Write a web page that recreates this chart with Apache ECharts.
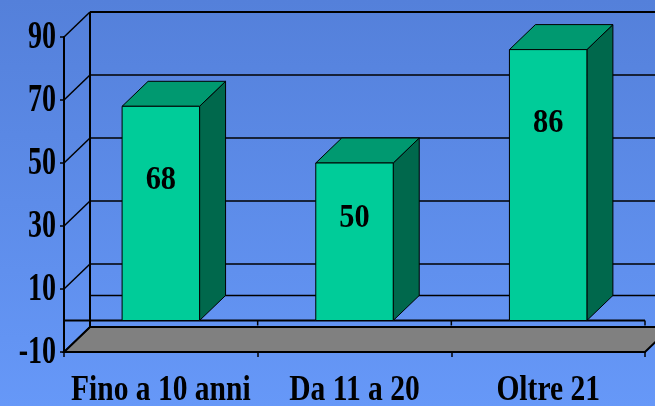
<!DOCTYPE html>
<html>
<head>
<meta charset="utf-8">
<script src="https://cdn.jsdelivr.net/npm/echarts@6/dist/echarts.min.js"></script>
<style>
  html, body { margin: 0; padding: 0; }
  #chart { width: 655px; height: 406px; }
</style>
</head>
<body>
<div id="chart"></div>
<script>
// Anni di servizio: three groups and their counts
const categories = ['Fino a 10 anni', 'Da 11 a 20', 'Oltre 21'];
const values = [68, 50, 86];
const yTicks = [-10, 10, 30, 50, 70, 90];

// Depth of the pseudo-3D box (screen offset of the back plane)
const DX = 26, DY = -25;
const FONT = '"Liberation Serif", "Times New Roman", serif';
const LINE = '#000';

const chart = echarts.init(document.getElementById('chart'));

// Walls, floor, gridlines and axis text
function renderFrame(params, api) {
  const cs = params.coordSys;
  const x0 = cs.x, x1 = cs.x + cs.width;
  const yOf = v => api.coord([0, v])[1];
  const yMin = yOf(yTicks[0]);
  const yMax = yOf(yTicks[yTicks.length - 1]);
  const y0 = yOf(0);
  const band = api.size([1, 0])[0];
  const children = [];

  // gray floor at the bottom of the value range
  children.push({
    type: 'polygon',
    shape: { points: [[x0, yMin], [x1, yMin], [x1 + DX, yMin + DY], [x0 + DX, yMin + DY]] },
    style: { fill: '#808080', stroke: LINE, lineWidth: 2 }
  });

  // back wall gridlines and left wall diagonals
  yTicks.forEach(v => {
    const y = yOf(v);
    children.push({
      type: 'line',
      shape: { x1: x0 + DX, y1: y + DY, x2: x1 + DX, y2: y + DY },
      style: { stroke: LINE, lineWidth: v === yTicks[yTicks.length - 1] ? 2 : 1.5 }
    });
    children.push({
      type: 'line',
      shape: { x1: x0, y1: y, x2: x0 + DX, y2: y + DY },
      style: { stroke: LINE, lineWidth: 1.5 }
    });
  });
  // back wall edges
  children.push({
    type: 'line',
    shape: { x1: x0 + DX, y1: yMax + DY, x2: x0 + DX, y2: yMin + DY },
    style: { stroke: LINE, lineWidth: 2 }
  });
  children.push({
    type: 'line',
    shape: { x1: x1 + DX, y1: yMax + DY, x2: x1 + DX, y2: yMin + DY },
    style: { stroke: LINE, lineWidth: 2 }
  });

  // zero plane: back and front edges, with category ticks on the front
  children.push({
    type: 'line',
    shape: { x1: x0 + DX, y1: y0 + DY, x2: x1 + DX, y2: y0 + DY },
    style: { stroke: LINE, lineWidth: 1.5 }
  });
  children.push({
    type: 'line',
    shape: { x1: x0, y1: y0, x2: x1, y2: y0 },
    style: { stroke: LINE, lineWidth: 2 }
  });
  for (let i = 0; i <= categories.length; i++) {
    const x = x0 + band * i;
    children.push({
      type: 'line',
      shape: { x1: x, y1: y0, x2: x, y2: y0 + 5 },
      style: { stroke: LINE, lineWidth: 1.5 }
    });
  }

  // value labels on the front axis
  yTicks.forEach(v => {
    children.push({
      type: 'text',
      x: x0 - 8, y: yOf(v) + 1,
      scaleX: 0.7,
      style: {
        text: String(v), x: 0, y: 0,
        font: 'bold 40px ' + FONT, fill: '#000',
        align: 'right', verticalAlign: 'middle'
      }
    });
  });

  // category labels under the floor
  categories.forEach((c, i) => {
    children.push({
      type: 'text',
      x: api.coord([i, 0])[0], y: yMin + 39,
      scaleX: 0.82,
      style: {
        text: c, x: 0, y: 0,
        font: 'bold 36px ' + FONT, fill: '#000',
        align: 'center', verticalAlign: 'middle'
      }
    });
  });

  return { type: 'group', children };
}

// One 3D box per category: front face, top face, right side, value label
function renderBar(params, api) {
  const idx = api.value(0);
  const val = api.value(1);
  const base = api.coord([idx, 0]);
  const top = api.coord([idx, val]);
  const w = api.size([1, 0])[0] * 0.4;
  const L = base[0] - w / 2, R = base[0] + w / 2;
  const T = top[1], B = base[1];
  const h = B - T;
  const edge = { stroke: LINE, lineWidth: 1 };
  return {
    type: 'group',
    children: [
      {
        type: 'polygon',
        shape: { points: [[R, T], [R + DX, T + DY], [R + DX, B + DY], [R, B]] },
        style: Object.assign({ fill: '#00684C' }, edge)
      },
      {
        type: 'polygon',
        shape: { points: [[L, T], [R, T], [R + DX, T + DY], [L + DX, T + DY]] },
        style: Object.assign({ fill: '#009970' }, edge)
      },
      {
        type: 'rect',
        shape: { x: L, y: T, width: w, height: h },
        style: Object.assign({ fill: '#00CC99' }, edge)
      },
      {
        type: 'text',
        x: base[0], y: T + Math.min(0.35 * h, 74),
        scaleX: 0.92,
        style: {
          text: String(val), x: 0, y: 0,
          font: 'bold 33px ' + FONT, fill: '#000',
          align: 'center', verticalAlign: 'middle'
        }
      }
    ]
  };
}

chart.setOption({
  backgroundColor: {
    type: 'linear', x: 0, y: 0, x2: 0, y2: 1,
    colorStops: [
      { offset: 0, color: '#5480DA' },
      { offset: 1, color: '#6698F8' }
    ]
  },
  animation: false,
  grid: { left: 64, right: 10, top: 37, bottom: 54 },
  xAxis: {
    type: 'category',
    data: categories,
    boundaryGap: true,
    axisLine: { onZero: false, lineStyle: { color: LINE, width: 2 } },
    axisTick: { show: true, length: 5, lineStyle: { color: LINE, width: 1.5 } },
    axisLabel: { show: false },
    splitLine: { show: false }
  },
  yAxis: {
    type: 'value',
    min: -10, max: 90, interval: 20,
    axisLine: { show: true, lineStyle: { color: LINE, width: 2 } },
    axisTick: { show: true, inside: false, length: 4, lineStyle: { color: LINE, width: 1.5 } },
    axisLabel: { show: false },
    splitLine: { show: false }
  },
  series: [
    {
      type: 'custom',
      renderItem: renderFrame,
      data: [[0, 0]],
      encode: { x: 0, y: 1 },
      silent: true,
      clip: false,
      z: 1
    },
    {
      type: 'custom',
      renderItem: renderBar,
      data: values.map((v, i) => [i, v]),
      encode: { x: 0, y: 1 },
      clip: false,
      z: 2
    }
  ]
});
</script>
</body>
</html>
